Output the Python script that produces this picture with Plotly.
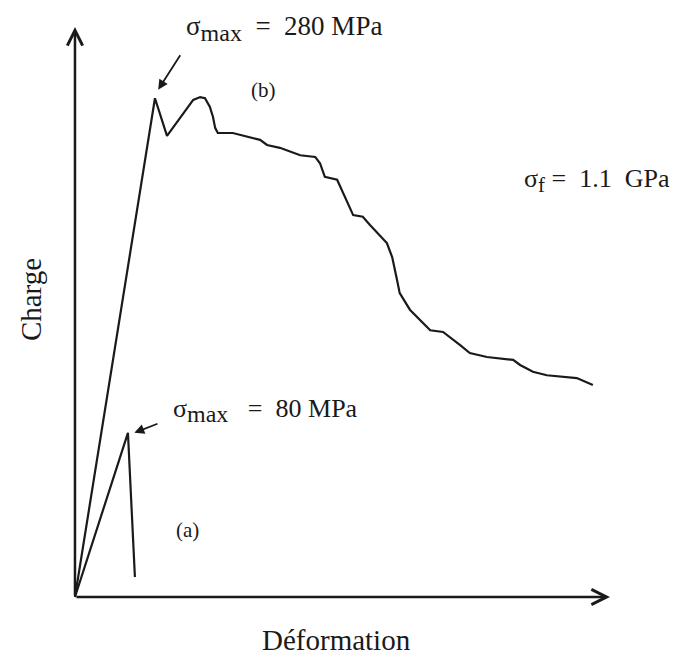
import plotly.graph_objects as go

# Curve (b): sigma_max = 280 MPa (arbitrary units: deformation, charge)
def_b = [0, 14.95, 17.2, 22.1, 23.4, 24.3, 25.2, 25.8, 26.2, 26.7, 29.5, 31.8, 34.6, 35.9,
         38.3, 42.1, 44.9, 45.8, 46.7, 49.0, 50.1, 52.0, 53.8, 55.1, 58.3, 59.3, 60.2,
         60.7, 62.6, 64.5, 66.4, 68.8, 70.1, 72.0, 73.8, 77.0, 81.9, 83.2, 85.6, 88.2,
         93.8, 96.8]
charge_b = [0, 87.5, 80.9, 87.2, 87.7, 87.5, 86.0, 84.2, 82.3, 81.4, 81.4, 80.9, 80.2, 79.3,
            78.8, 77.5, 77.2, 76.1, 73.7, 73.2, 70.9, 67.0, 66.7, 65.3, 62.1, 59.6, 55.6,
            53.3, 50.4, 48.6, 46.8, 46.5, 45.6, 44.2, 42.8, 42.1, 41.6, 40.7, 39.5, 38.9,
            38.4, 37.2]

# Curve (a): sigma_max = 80 MPa
def_a = [0, 9.9, 11.2]
charge_a = [0, 28.8, 3.5]

labels = {
    "b_max": 'σ<sub><span style="font-size:24px">max</span></sub> &nbsp;= &nbsp;280 MPa',
    "a_max": 'σ<sub><span style="font-size:24px">max</span></sub> &nbsp;&nbsp;= &nbsp;80 MPa',
    "b_f": 'σ<sub><span style="font-size:21px">f</span></sub> = &nbsp;1.1 &nbsp;GPa',
    "b": "(b)",
    "a": "(a)",
    "xlab": "Déformation",
    "ylab": "Charge",
}

ink = "#1a1a1a"
font = "Liberation Serif"

fig = go.Figure()
fig.add_trace(go.Scatter(x=def_b, y=charge_b, mode="lines",
                         line=dict(color=ink, width=2.2), showlegend=False, hoverinfo="skip"))
fig.add_trace(go.Scatter(x=def_a, y=charge_a, mode="lines",
                         line=dict(color=ink, width=2.2), showlegend=False, hoverinfo="skip"))

ann = []
# axes with open arrowheads
ann.append(dict(x=100, y=0, ax=0, ay=0, xref="x", yref="y", axref="x", ayref="y",
                showarrow=True, arrowhead=5, arrowsize=1.2, arrowwidth=2.5,
                arrowcolor=ink, text=""))
ann.append(dict(x=0, y=100, ax=0, ay=0, xref="x", yref="y", axref="x", ayref="y",
                showarrow=True, arrowhead=5, arrowsize=1.2, arrowwidth=2.5,
                arrowcolor=ink, text=""))

# pointer arrows to the maxima
pb_x, pb_y = def_b[1], charge_b[1]
ann.append(dict(x=pb_x + 0.6, y=pb_y + 1.5, ax=pb_x + 4.9, ay=pb_y + 7.8,
                xref="x", yref="y", axref="x", ayref="y", showarrow=True,
                arrowhead=2, arrowsize=1.1, arrowwidth=1.8, arrowcolor=ink, text=""))
pa_x, pa_y = def_a[1], charge_a[1]
ann.append(dict(x=pa_x + 1.2, y=pa_y, ax=pa_x + 5.8, ay=pa_y + 1.7,
                xref="x", yref="y", axref="x", ayref="y", showarrow=True,
                arrowhead=2, arrowsize=1.1, arrowwidth=1.8, arrowcolor=ink, text=""))

def txt(t, x, y, size, xanchor="center", angle=0):
    return dict(x=x, y=y, xref="x", yref="y", text=t, showarrow=False,
                xanchor=xanchor, yanchor="middle", textangle=angle,
                font=dict(family=font, size=size, color=ink))

ann.append(txt(labels["b_max"], 20.4, 99.8, 27, "left"))
ann.append(txt(labels["b"], 35.2, 88.9, 21))
ann.append(txt(labels["b_f"], 83.6, 73.0, 26, "left"))
ann.append(txt(labels["a_max"], 17.9, 32.8, 26, "left"))
ann.append(txt(labels["a"], 21.1, 11.8, 21))
ann.append(txt(labels["xlab"], 48.8, -7.6, 29))
ann.append(txt(labels["ylab"], -8.2, 52.1, 29, angle=-90))

# page body adds an 8px offset; shift the data window to compensate
fig.update_layout(
    width=685, height=660,
    margin=dict(l=0, r=0, t=0, b=0),
    paper_bgcolor="#ffffff", plot_bgcolor="#ffffff",
    xaxis=dict(range=[-12.52, 115.52], visible=False, fixedrange=True),
    yaxis=dict(range=[-12.46, 103.33], visible=False, fixedrange=True),
    annotations=ann,
    showlegend=False,
)

fig.write_html("out.html")
